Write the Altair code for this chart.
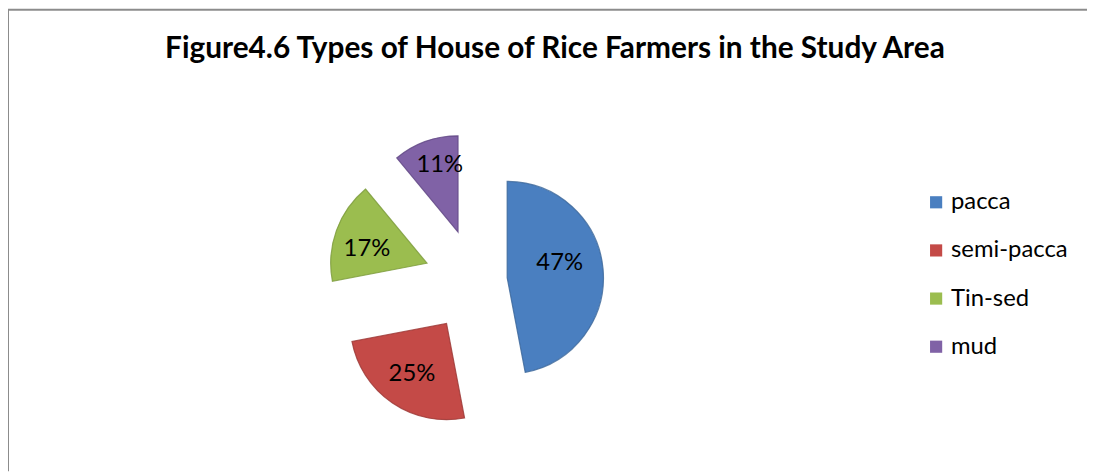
import altair as alt
import pandas as pd

houses = ["pacca", "semi-pacca", "Tin-sed", "mud"]
shares = [47, 25, 17, 11]
labels = ["47%", "25%", "17%", "11%"]
colors = ["#4a7fc0", "#c44a47", "#9bbd4f", "#8062a6"]
edge_colors = ["#3a6599", "#9a3633", "#7a9a3a", "#624884"]
title_text = "Figure4.6 Types of House of Rice Farmers in the Study Area"

df = pd.DataFrame({"house": houses, "share": shares, "label": labels})

W, H = 1087, 465
CX, CY, R = 471, 273, 97

base = (
    alt.Chart(df)
    .transform_joinaggregate(total="sum(share)")
    .transform_window(cum="sum(share)", frame=[None, 0])
    .transform_calculate(
        t1="2*PI*(datum.cum - datum.share)/datum.total",
        t2="2*PI*datum.cum/datum.total",
    )
    .transform_calculate(mid="(datum.t1 + datum.t2)/2",
                         ex="datum.house == 'pacca' ? 32 : 52",
                         ld="datum.house == 'mud' ? 70 : (datum.house == 'pacca' ? 55 : 62)",
                         la="datum.house == 'Tin-sed' ? -0.12 : (datum.house == 'pacca' ? -0.18 : (datum.house == 'mud' ? 0.08 : 0))")
    .transform_calculate(
        px=f"{CX} + datum.ex*sin(datum.mid)",
        py=f"{CY} - datum.ex*cos(datum.mid)",
    )
    .transform_calculate(
        lx="datum.px + datum.ld*sin(datum.mid + datum.la)",
        ly="datum.py - datum.ld*cos(datum.mid + datum.la)",
    )
)

arcs = base.mark_arc(radius=R, strokeWidth=1.2, strokeOpacity=0.8).encode(
    theta=alt.Theta("t1:Q", scale=None, stack=None),
    theta2="t2:Q",
    x=alt.X("px:Q", scale=None),
    y=alt.Y("py:Q", scale=None),
    color=alt.Color(
        "house:N",
        scale=alt.Scale(domain=houses, range=colors),
        sort=houses,
        legend=alt.Legend(
            title=None,
            orient="none",
            legendX=923,
            legendY=182,
            symbolType="square",
            symbolSize=150,
            symbolStrokeWidth=0,
            labelFont="Lato",
            labelFontSize=24,
            labelColor="#000000",
            labelOffset=3,
            rowPadding=24.5,
        ),
    ),
    stroke=alt.Stroke("house:N", scale=alt.Scale(domain=houses, range=edge_colors), legend=None),
)

texts = base.mark_text(font="Lato", fontSize=24, color="#000000", baseline="middle", align="center").encode(
    x=alt.X("lx:Q", scale=None),
    y=alt.Y("ly:Q", scale=None),
    text="label:N",
)

title = alt.Chart(pd.DataFrame({"t": [title_text]})).mark_text(
    font="Lato", fontSize=30, fontWeight="bold", color="#000000", baseline="alphabetic", align="center"
).encode(x=alt.value(551), y=alt.value(49), text="t:N")

border_left = alt.Chart(pd.DataFrame({"t": [0]})).mark_rule(color="#8c8c8c", strokeWidth=2).encode(
    x=alt.value(0), y=alt.value(0), y2=alt.value(H)
)
border_top = alt.Chart(pd.DataFrame({"t": [0]})).mark_rule(color="#8c8c8c", strokeWidth=2).encode(
    x=alt.value(0), x2=alt.value(W), y=alt.value(0)
)

chart = (
    alt.layer(border_left, border_top, arcs, texts, title)
    .properties(width=W, height=H, padding=0, autosize=alt.AutoSizeParams(type="none"))
    .configure(background="#ffffff", view=alt.ViewConfig(stroke="transparent"))
)

chart.save("out.html", embed_options={"renderer": "svg", "actions": False})
